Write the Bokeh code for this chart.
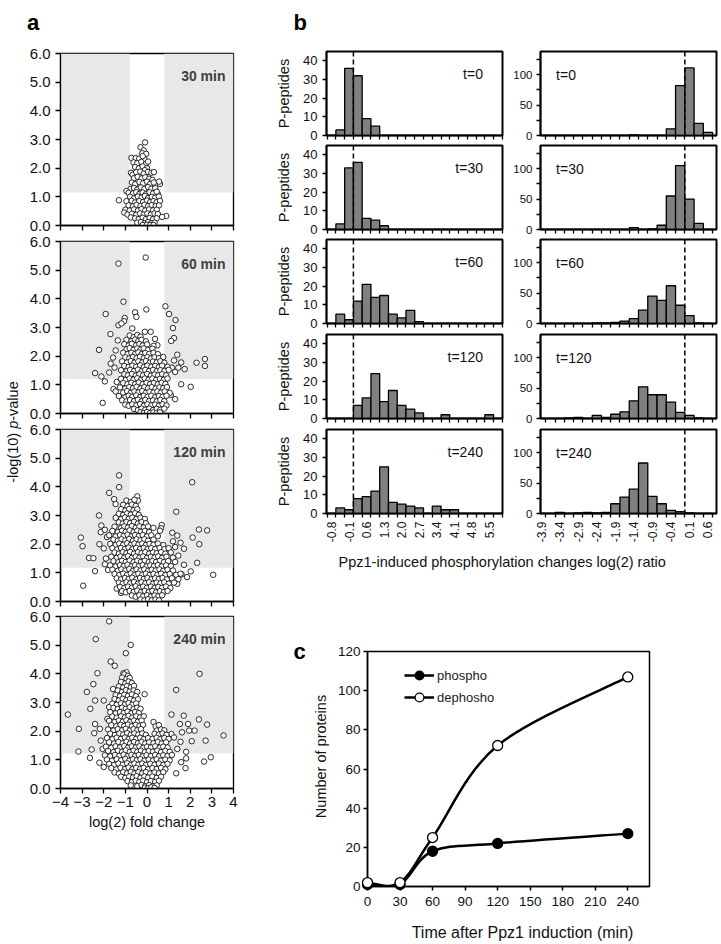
import math
from bokeh.plotting import figure
from bokeh.layouts import row, column
from bokeh.models import (BoxAnnotation, Span, Label, FixedTicker, NumeralTickFormatter,
                          Legend, LegendItem, ColumnDataSource)
from bokeh.embed import file_html
from bokeh.resources import INLINE

FONT = "Liberation Sans"

# ---------------- panel a : volcano plots ----------------
FC_CUT = 0.8
P_CUTS = [1.15, 1.2, 1.18, 1.22]
VOLC_TITLES = ["30 min", "60 min", "120 min", "240 min"]
VX_TICKS = [-4, -3, -2, -1, 0, 1, 2, 3, 4]
VY_TICKS = [0, 1, 2, 3, 4, 5, 6]

v30 = [
(-0.09,2.9),(-0.3,2.73),(-0.15,2.62),(-0.22,2.52),(-0.04,2.5),
(-0.72,2.36),(-0.52,2.35),(-0.36,2.33),(-0.12,2.32),(-0.2,2.42),
(-0.62,2.2),(-0.45,2.17),(-0.26,2.22),(-0.06,2.14),(0.05,2.23),
(-0.55,2.04),(-0.38,1.99),(-0.2,2.06),(0.0,2.0),(-0.1,1.93),
(-0.74,1.84),(-0.66,1.77),(-0.5,1.86),(-0.31,1.88),(-0.15,1.81),(0.05,1.87),(0.2,1.84),(0.32,1.86),
(-0.6,1.65),(-0.43,1.7),(-0.25,1.64),(-0.08,1.68),(0.1,1.63),(0.25,1.59),
(-0.7,1.5),(-0.55,1.44),(-0.35,1.52),(-0.18,1.47),(0.0,1.53),(0.15,1.45),(0.31,1.5),(0.6,1.45),(0.56,1.53),
(-0.76,1.28),(-0.6,1.31),(-0.45,1.25),(-0.28,1.33),(-0.12,1.27),(0.05,1.34),(0.2,1.28),(0.38,1.3),(0.5,1.1),
(-0.95,1.2),(-0.85,1.14),(-0.65,1.12),(-0.5,1.16),(-0.35,1.1),(-0.2,1.15),(-0.05,1.09),(0.12,1.16),(0.28,1.12),(0.45,1.18),
(-0.78,1.0),(-0.6,0.95),(-0.42,1.01),(-0.25,0.97),(-0.1,1.03),(0.05,0.96),(0.22,1.0),(0.38,0.97),(0.55,1.01),
(-1.3,0.88),(-0.95,0.85),(-0.71,0.86),(-0.55,0.8),(-0.36,0.85),(-0.18,0.82),(0.0,0.87),(0.15,0.82),(0.3,0.85),(0.45,0.81),(0.6,0.86),
(-0.85,0.7),(-0.65,0.67),(-0.48,0.72),(-0.3,0.68),(-0.12,0.72),(0.05,0.67),(0.22,0.71),(0.4,0.68),(0.55,0.7),
(-1.0,0.55),(-0.8,0.52),(-0.6,0.56),(-0.42,0.52),(-0.25,0.57),(-0.08,0.52),(0.1,0.56),(0.28,0.53),(0.45,0.55),
(-1.05,0.45),(-0.9,0.38),(-0.7,0.41),(-0.5,0.37),(-0.32,0.42),(-0.15,0.38),(0.02,0.42),(0.18,0.38),(0.35,0.42),(0.5,0.4),
(-0.75,0.28),(-0.55,0.25),(-0.38,0.22),(-0.2,0.27),(-0.05,0.22),(0.12,0.26),(0.28,0.22),(0.45,0.25),(0.89,0.33),(0.7,0.3),
(-0.45,0.1),(-0.28,0.12),(-0.1,0.08),(0.05,0.12),(0.2,0.08),(0.35,0.1),(-0.2,0.02),(0.0,0.03),(0.15,0.02),(0.3,0.02),
]

v60 = [
(-0.06,5.44),(-1.32,5.23),(-1.09,3.9),(-0.03,3.63),(-0.55,3.53),(-0.49,3.37),(-1.03,3.33),(-1.06,3.22),
(-1.91,3.47),(-1.32,3.08),(-1.18,3.14),(-1.69,2.77),(-0.68,2.97),(-0.1,2.85),(0.17,2.85),(0.85,3.74),
(1.02,3.47),(1.32,3.26),(1.2,2.98),(1.25,2.63),(1.12,2.53),(-2.22,2.22),(-1.57,1.95),(-1.68,1.74),
(-2.4,1.41),(-2.11,1.29),(-1.95,1.12),(-1.75,1.43),(2.29,1.77),(2.68,1.9),(2.68,1.66),(1.58,1.78),
(1.74,1.55),(1.4,2.05),(1.58,1.02),(2.02,0.93),(-2.05,0.37),(0.37,2.6),(0.48,2.38),(-1.35,2.55),
(-1.45,2.2),(-1.5,1.6),(1.15,1.6),(1.3,1.45),(1.25,1.85),(1.45,1.6),(1.1,0.65),(1.3,0.5),(-1.55,0.85),(-1.4,1.1),
(-0.8,2.72),(-0.62,2.66),(-0.45,2.74),(-0.3,2.68),
(-0.95,2.57),(-0.72,2.52),(-0.55,2.58),(-0.4,2.53),(-0.25,2.57),(-0.05,2.52),
(-1.05,2.42),(-0.85,2.37),(-0.7,2.43),(-0.5,2.38),(-0.35,2.42),(-0.2,2.37),(0.0,2.41),(0.3,2.36),
(-0.95,2.24),(-0.8,2.28),(-0.62,2.22),(-0.45,2.27),(-0.3,2.23),(-0.15,2.27),(0.05,2.22),(0.25,2.26),
(-1.1,2.12),(-0.9,2.07),(-0.72,2.12),(-0.55,2.08),(-0.4,2.13),(-0.25,2.07),(-0.08,2.11),(0.1,2.08),(0.3,2.12),(0.5,2.07),
(-1.0,1.96),(-0.82,1.92),(-0.65,1.97),(-0.48,1.93),(-0.32,1.98),(-0.15,1.93),(0.02,1.97),(0.18,1.92),(0.35,1.96),(0.55,1.93),(0.75,1.97),
(-1.15,1.82),(-0.92,1.78),(-0.75,1.83),(-0.58,1.77),(-0.4,1.82),(-0.22,1.78),(-0.05,1.83),(0.12,1.77),(0.28,1.81),(0.45,1.78),(0.62,1.82),(0.8,1.77),
(-1.05,1.66),(-0.85,1.62),(-0.68,1.67),(-0.5,1.63),(-0.32,1.68),(-0.15,1.62),(0.02,1.67),(0.2,1.63),(0.38,1.66),(0.55,1.62),(0.7,1.67),(0.95,1.63),
(-1.2,1.51),(-0.95,1.47),(-0.78,1.52),(-0.6,1.48),(-0.42,1.53),(-0.25,1.47),(-0.08,1.52),(0.1,1.48),(0.28,1.52),(0.45,1.47),(0.62,1.51),(0.8,1.48),(1.0,1.52),
(-1.05,1.37),(-0.88,1.33),(-0.7,1.38),(-0.52,1.32),(-0.35,1.37),(-0.18,1.33),(0.0,1.38),(0.18,1.32),(0.35,1.36),(0.52,1.33),(0.7,1.37),(0.88,1.33),
(-1.2,1.21),(-0.98,1.17),(-0.8,1.22),(-0.62,1.18),(-0.45,1.23),(-0.28,1.17),(-0.1,1.22),(0.08,1.18),(0.25,1.22),(0.42,1.17),(0.6,1.21),(0.78,1.18),(0.95,1.22),
(-1.1,1.06),(-0.9,1.02),(-0.72,1.07),(-0.55,1.03),(-0.38,1.08),(-0.2,1.02),(-0.02,1.07),(0.15,1.03),(0.32,1.06),(0.5,1.02),(0.68,1.07),(0.85,1.03),
(-1.25,0.91),(-1.0,0.87),(-0.82,0.92),(-0.65,0.88),(-0.48,0.93),(-0.3,0.87),(-0.12,0.92),(0.05,0.88),(0.22,0.92),(0.4,0.87),(0.58,0.91),(0.75,0.88),(0.92,0.92),
(-1.45,0.77),(-1.1,0.73),(-0.92,0.78),(-0.75,0.72),(-0.58,0.77),(-0.4,0.73),(-0.22,0.78),(-0.05,0.72),(0.12,0.76),(0.3,0.73),(0.48,0.77),(0.65,0.73),(0.82,0.77),(1.05,0.72),
(-1.3,0.61),(-1.0,0.57),(-0.85,0.62),(-0.68,0.58),(-0.5,0.63),(-0.32,0.57),(-0.15,0.62),(0.02,0.58),(0.2,0.62),(0.38,0.57),(0.55,0.61),(0.72,0.58),(0.9,0.62),
(-1.15,0.46),(-0.95,0.42),(-0.78,0.47),(-0.6,0.43),(-0.42,0.48),(-0.25,0.42),(-0.08,0.47),(0.1,0.43),(0.28,0.46),(0.45,0.42),(0.62,0.47),(0.8,0.43),
(-1.0,0.31),(-0.85,0.27),(-0.68,0.32),(-0.5,0.28),(-0.32,0.33),(-0.15,0.27),(0.02,0.32),(0.2,0.28),(0.38,0.31),(0.55,0.27),(0.72,0.32),(0.9,0.28),
(-0.6,0.16),(-0.42,0.12),(-0.25,0.17),(-0.08,0.13),(0.1,0.17),(0.28,0.12),(0.45,0.16),(0.62,0.13),(0.8,0.17),
(-0.3,0.04),(-0.15,0.02),(0.0,0.05),(0.15,0.02),(0.3,0.04),(0.45,0.02),(0.6,0.04),
]

v120 = [
(-1.29,4.4),(-1.29,3.99),(-1.75,3.79),(-1.52,3.57),(-1.45,3.4),(-0.45,3.67),(-0.42,3.52),(-2.22,3.0),
(-3.06,2.23),(-2.98,1.93),(-2.68,1.52),(-2.48,1.51),(-2.4,1.06),(-2.95,0.55),(-2.11,2.65),(-2.14,2.42),
(-1.95,2.5),(-1.85,2.25),(-2.2,2.0),(-2.0,1.85),(-1.9,1.5),(-1.95,1.3),(-1.8,1.1),(2.09,4.16),
(1.35,3.13),(0.68,2.67),(0.65,2.55),(1.17,2.4),(1.4,2.3),(2.4,2.51),(2.78,2.48),(2.11,2.23),
(2.42,2.0),(1.71,1.84),(2.32,1.35),(1.71,1.28),(2.02,1.05),(3.06,0.93),(1.4,0.62),(1.6,0.95),
(1.85,0.85),(1.3,1.9),(1.45,1.6),(1.2,2.1),(1.55,2.05),(-1.2,0.3),(-1.4,0.45),
(-0.95,3.52),(-0.75,3.47),(-0.58,3.55),
(-1.1,3.37),(-0.9,3.32),(-0.7,3.38),(-0.52,3.33),
(-1.2,3.22),(-1.0,3.17),(-0.82,3.23),(-0.62,3.18),(-0.45,3.22),
(-1.3,3.06),(-1.1,3.02),(-0.92,3.07),(-0.75,3.03),(-0.55,3.08),(-0.38,3.02),
(-1.45,2.92),(-1.2,2.87),(-1.02,2.93),(-0.85,2.88),(-0.68,2.92),(-0.5,2.87),(-0.3,2.92),(-0.1,2.88),
(-1.3,2.76),(-1.12,2.72),(-0.95,2.77),(-0.78,2.73),(-0.6,2.78),(-0.42,2.72),(-0.25,2.77),(-0.05,2.73),
(-1.5,2.61),(-1.2,2.57),(-1.05,2.62),(-0.88,2.58),(-0.7,2.63),(-0.52,2.57),(-0.35,2.62),(-0.15,2.58),(0.05,2.62),(0.3,2.57),
(-1.6,2.46),(-1.35,2.42),(-1.15,2.47),(-0.98,2.43),(-0.8,2.48),(-0.62,2.42),(-0.45,2.47),(-0.28,2.43),(-0.1,2.46),(0.1,2.42),(0.6,2.47),
(-1.75,2.31),(-1.45,2.27),(-1.25,2.32),(-1.08,2.28),(-0.9,2.33),(-0.72,2.27),(-0.55,2.32),(-0.38,2.28),(-0.2,2.32),(0.0,2.27),(0.2,2.31),(0.5,2.28),
(-1.55,2.16),(-1.35,2.12),(-1.18,2.17),(-1.0,2.13),(-0.82,2.18),(-0.65,2.12),(-0.48,2.17),(-0.3,2.13),(-0.12,2.17),(0.05,2.12),(0.3,2.16),
(-1.7,2.01),(-1.45,1.97),(-1.28,2.02),(-1.1,1.98),(-0.92,2.03),(-0.75,1.97),(-0.58,2.02),(-0.4,1.98),(-0.22,2.02),(-0.05,1.97),(0.12,2.01),(0.3,1.98),(0.5,2.02),(0.75,1.97),
(-1.6,1.86),(-1.38,1.82),(-1.2,1.87),(-1.02,1.83),(-0.85,1.88),(-0.68,1.82),(-0.5,1.87),(-0.32,1.83),(-0.15,1.87),(0.02,1.82),(0.2,1.86),(0.38,1.83),(0.58,1.87),(0.8,1.82),(1.0,1.86),
(-1.5,1.71),(-1.3,1.67),(-1.12,1.72),(-0.95,1.68),(-0.78,1.73),(-0.6,1.67),(-0.42,1.72),(-0.25,1.68),(-0.08,1.72),(0.1,1.67),(0.28,1.71),(0.45,1.68),(0.65,1.72),(0.85,1.67),(1.1,1.71),
(-1.65,1.56),(-1.4,1.52),(-1.22,1.57),(-1.05,1.53),(-0.88,1.58),(-0.7,1.52),(-0.52,1.57),(-0.35,1.53),(-0.18,1.57),(0.0,1.52),(0.18,1.56),(0.35,1.53),(0.52,1.57),(0.7,1.52),(0.9,1.56),(1.2,1.53),
(-1.55,1.41),(-1.32,1.37),(-1.15,1.42),(-0.98,1.38),(-0.8,1.43),(-0.62,1.37),(-0.45,1.42),(-0.28,1.38),(-0.1,1.42),(0.08,1.37),(0.25,1.41),(0.42,1.38),(0.6,1.42),(0.78,1.37),(0.98,1.41),(1.3,1.38),
(-1.7,1.26),(-1.45,1.22),(-1.25,1.27),(-1.08,1.23),(-0.9,1.28),(-0.72,1.22),(-0.55,1.27),(-0.38,1.23),(-0.2,1.27),(-0.02,1.22),(0.15,1.26),(0.32,1.23),(0.5,1.27),(0.68,1.22),(0.88,1.26),(1.1,1.23),
(-1.6,1.11),(-1.35,1.07),(-1.18,1.12),(-1.0,1.08),(-0.82,1.13),(-0.65,1.07),(-0.48,1.12),(-0.3,1.08),(-0.12,1.12),(0.05,1.07),(0.22,1.11),(0.4,1.08),(0.58,1.12),(0.75,1.07),(0.95,1.11),(1.2,1.08),
(-1.5,0.96),(-1.28,0.92),(-1.1,0.97),(-0.92,0.93),(-0.75,0.98),(-0.58,0.92),(-0.4,0.97),(-0.22,0.93),(-0.05,0.97),(0.12,0.92),(0.3,0.96),(0.48,0.93),(0.65,0.97),(0.85,0.92),(1.05,0.96),(1.35,0.93),(1.55,0.97),
(-1.4,0.81),(-1.2,0.77),(-1.02,0.82),(-0.85,0.78),(-0.68,0.83),(-0.5,0.77),(-0.32,0.82),(-0.15,0.78),(0.02,0.82),(0.2,0.77),(0.38,0.81),(0.55,0.78),(0.72,0.82),(0.92,0.77),(1.15,0.81),(1.45,0.78),
(-1.3,0.66),(-1.12,0.62),(-0.95,0.67),(-0.78,0.63),(-0.6,0.68),(-0.42,0.62),(-0.25,0.67),(-0.08,0.63),(0.1,0.67),(0.28,0.62),(0.45,0.66),(0.62,0.63),(0.8,0.67),(1.0,0.62),(1.25,0.66),
(-1.25,0.51),(-1.05,0.47),(-0.88,0.52),(-0.7,0.48),(-0.52,0.53),(-0.35,0.47),(-0.18,0.52),(0.0,0.48),(0.18,0.52),(0.35,0.47),(0.52,0.51),(0.7,0.48),(0.88,0.52),(1.08,0.47),
(-1.15,0.36),(-0.98,0.32),(-0.8,0.37),(-0.62,0.33),(-0.45,0.38),(-0.28,0.32),(-0.1,0.37),(0.08,0.33),(0.25,0.37),(0.42,0.32),(0.6,0.36),(0.78,0.33),(0.95,0.37),
(-0.7,0.21),(-0.52,0.17),(-0.35,0.22),(-0.18,0.18),(0.0,0.22),(0.18,0.17),(0.35,0.21),(0.52,0.18),(0.7,0.22),
(-0.3,0.07),(-0.12,0.04),(0.05,0.08),(0.22,0.04),(0.4,0.07),(0.55,0.04),
]

v240 = [
(-1.75,5.83),(-2.37,5.21),(-0.75,5.01),(-0.98,4.72),(-1.68,4.43),(-1.49,4.28),(-2.29,4.02),(-1.09,4.02),
(-0.95,4.05),(2.43,4.0),(-2.48,3.64),(-2.78,3.37),(-1.57,3.47),(1.35,3.44),(-0.11,3.29),(-3.66,2.58),
(-3.15,2.08),(-3.17,1.29),(-2.64,1.07),(-2.56,1.36),(-2.62,2.78),(-2.4,3.07),(-2.4,2.25),(-2.18,2.08),
(-2.14,1.67),(-2.44,1.93),(-2.0,3.07),(-2.05,1.38),(-1.75,2.84),(-1.83,2.43),(1.13,2.58),(1.7,2.54),
(2.4,2.41),(2.78,2.23),(3.54,1.85),(1.52,2.25),(1.9,2.25),(2.2,2.02),(1.95,2.02),(1.62,1.96),
(2.07,1.65),(2.71,1.67),(1.55,1.63),(1.81,1.28),(1.81,1.05),(2.95,1.09),(2.64,0.94),(1.78,0.71),
(1.35,0.53),(1.58,0.92),(1.13,1.9),(1.25,1.78),(1.4,1.38),(-2.2,0.9),(-2.0,0.75),
(-1.05,3.98),(-0.88,3.93),
(-1.15,3.87),(-0.95,3.82),(-0.8,3.86),
(-1.2,3.72),(-1.0,3.67),(-0.85,3.73),(-0.7,3.68),
(-1.3,3.56),(-1.1,3.52),(-0.92,3.57),(-0.75,3.53),(-0.6,3.58),
(-1.35,3.42),(-1.15,3.37),(-0.98,3.43),(-0.8,3.38),(-0.62,3.42),(-0.45,3.37),
(-1.45,3.26),(-1.25,3.22),(-1.05,3.27),(-0.88,3.23),(-0.7,3.28),(-0.52,3.22),
(-1.5,3.12),(-1.3,3.07),(-1.12,3.13),(-0.95,3.08),(-0.78,3.12),(-0.6,3.07),(-0.42,3.11),
(-1.6,2.96),(-1.4,2.92),(-1.2,2.97),(-1.02,2.93),(-0.85,2.98),(-0.68,2.92),(-0.5,2.97),
(-1.55,2.81),(-1.35,2.77),(-1.15,2.82),(-0.98,2.78),(-0.8,2.83),(-0.62,2.77),(-0.45,2.82),(-0.3,2.78),
(-1.7,2.66),(-1.45,2.62),(-1.25,2.67),(-1.08,2.63),(-0.9,2.68),(-0.72,2.62),(-0.55,2.67),(-0.38,2.63),
(-1.6,2.51),(-1.4,2.47),(-1.2,2.52),(-1.02,2.48),(-0.85,2.53),(-0.68,2.47),(-0.5,2.52),(-0.32,2.48),(-0.15,2.52),
(-1.75,2.36),(-1.5,2.32),(-1.3,2.37),(-1.12,2.33),(-0.95,2.38),(-0.78,2.32),(-0.6,2.37),(-0.42,2.33),(-0.25,2.37),(0.3,2.32),
(-1.65,2.21),(-1.42,2.17),(-1.22,2.22),(-1.05,2.18),(-0.88,2.23),(-0.7,2.17),(-0.52,2.22),(-0.35,2.18),(-0.18,2.22),(0.4,2.17),(0.55,2.21),
(-1.8,2.06),(-1.55,2.02),(-1.35,2.07),(-1.15,2.03),(-0.98,2.08),(-0.8,2.02),(-0.62,2.07),(-0.45,2.03),(-0.28,2.07),(0.45,2.02),(0.65,2.06),(0.8,2.03),
(-1.7,1.91),(-1.48,1.87),(-1.28,1.92),(-1.1,1.88),(-0.92,1.93),(-0.75,1.87),(-0.58,1.92),(-0.4,1.88),(-0.22,1.92),(-0.05,1.87),(0.35,1.91),(0.55,1.88),(0.72,1.92),(0.9,1.87),
(-1.85,1.76),(-1.6,1.72),(-1.4,1.77),(-1.2,1.73),(-1.02,1.78),(-0.85,1.72),(-0.68,1.77),(-0.5,1.73),(-0.32,1.77),(-0.15,1.72),(0.05,1.76),(0.25,1.73),(0.45,1.77),(0.62,1.72),(0.8,1.76),(1.0,1.73),
(-1.75,1.61),(-1.52,1.57),(-1.32,1.62),(-1.12,1.58),(-0.95,1.63),(-0.78,1.57),(-0.6,1.62),(-0.42,1.58),(-0.25,1.62),(-0.08,1.57),(0.1,1.61),(0.3,1.58),(0.5,1.62),(0.68,1.57),(0.88,1.61),
(-1.9,1.46),(-1.65,1.42),(-1.45,1.47),(-1.25,1.43),(-1.05,1.48),(-0.88,1.42),(-0.7,1.47),(-0.52,1.43),(-0.35,1.47),(-0.18,1.42),(0.0,1.46),(0.18,1.43),(0.38,1.47),(0.58,1.42),(0.75,1.46),(0.95,1.43),
(-1.8,1.31),(-1.55,1.27),(-1.35,1.32),(-1.15,1.28),(-0.98,1.33),(-0.8,1.27),(-0.62,1.32),(-0.45,1.28),(-0.28,1.32),(-0.1,1.27),(0.08,1.31),(0.28,1.28),(0.48,1.32),(0.65,1.27),(0.85,1.31),(1.05,1.28),
(-1.95,1.16),(-1.7,1.12),(-1.48,1.17),(-1.28,1.13),(-1.08,1.18),(-0.9,1.12),(-0.72,1.17),(-0.55,1.13),(-0.38,1.17),(-0.2,1.12),(-0.02,1.16),(0.18,1.13),(0.38,1.17),(0.55,1.12),(0.75,1.16),(0.95,1.13),(1.15,1.17),
(-1.85,1.01),(-1.62,0.97),(-1.4,1.02),(-1.2,0.98),(-1.0,1.03),(-0.82,0.97),(-0.65,1.02),(-0.48,0.98),(-0.3,1.02),(-0.12,0.97),(0.08,1.01),(0.28,0.98),(0.45,1.02),(0.65,0.97),(0.85,1.01),(1.05,0.98),
(-1.75,0.86),(-1.52,0.82),(-1.32,0.87),(-1.12,0.83),(-0.92,0.88),(-0.75,0.82),(-0.58,0.87),(-0.4,0.83),(-0.22,0.87),(-0.05,0.82),(0.15,0.86),(0.35,0.83),(0.55,0.87),(0.75,0.82),(0.95,0.86),
(-1.65,0.71),(-1.42,0.67),(-1.22,0.72),(-1.02,0.68),(-0.85,0.73),(-0.68,0.67),(-0.5,0.72),(-0.32,0.68),(-0.15,0.72),(0.05,0.67),(0.25,0.71),(0.45,0.68),(0.65,0.72),(0.85,0.67),
(-1.5,0.56),(-1.3,0.52),(-1.1,0.57),(-0.92,0.53),(-0.75,0.58),(-0.58,0.52),(-0.4,0.57),(-0.22,0.53),(-0.05,0.57),(0.15,0.52),(0.35,0.56),(0.55,0.53),(0.75,0.57),
(-1.2,0.41),(-1.0,0.37),(-0.82,0.42),(-0.65,0.38),(-0.48,0.43),(-0.3,0.37),(-0.12,0.42),(0.05,0.38),(0.25,0.42),(0.45,0.37),(0.65,0.41),
(-0.9,0.26),(-0.7,0.22),(-0.52,0.27),(-0.35,0.23),(-0.18,0.27),(0.0,0.22),(0.18,0.26),(0.38,0.23),(0.55,0.27),
(-0.75,0.11),(-0.45,0.08),(-0.25,0.12),(-0.08,0.08),(0.1,0.12),(0.28,0.08),(0.45,0.11),
(-0.1,0.03),(0.05,0.01),(0.2,0.04),(0.35,0.02),
]

# ---------------- panel b : histograms ----------------
LEFT_BINS = [-0.8, -0.45, -0.1, 0.25, 0.6, 0.95, 1.3, 1.65, 2.0, 2.35,
             2.7, 3.05, 3.4, 3.75, 4.1, 4.45, 4.8, 5.15, 5.5, 5.85]
RIGHT_BINS = [-3.9, -3.65, -3.4, -3.15, -2.9, -2.65, -2.4, -2.15, -1.9, -1.65,
              -1.4, -1.15, -0.9, -0.65, -0.4, -0.15, 0.1, 0.35, 0.6]
TIME_LABELS = ["t=0", "t=30", "t=60", "t=120", "t=240"]

up_t0   = [0, 3, 36, 32, 9, 5, 0, 0, 0, 0, 0, 0, 0, 0, 0, 0, 0, 0, 0, 0]
up_t30  = [0, 3, 33, 36, 6, 5, 2, 0, 0, 0, 0, 0, 0, 0, 0, 0, 0, 0, 0, 0]
up_t60  = [0, 5, 2, 12, 21, 14, 15, 5, 3, 7, 1, 0, 0, 0, 0, 0, 0, 0, 0, 0]
up_t120 = [0, 0, 0, 7, 11, 24, 9, 15, 7, 5, 3, 0, 0, 2, 0, 0, 0, 0, 2, 0]
up_t240 = [0, 3, 2, 8, 9, 12, 25, 6, 5, 4, 3, 0, 4, 2, 2, 0, 0, 0, 0, 0]

dn_t0   = [0, 0, 0, 0, 0, 0, 0, 0, 0, 0, 1, 0, 0, 0, 11, 82, 111, 20, 5]
dn_t30  = [0, 0, 0, 0, 0, 0, 0, 0, 0, 0, 3, 0, 1, 7, 55, 105, 50, 10, 0]
dn_t60  = [0, 0, 0, 0, 0, 0, 1, 1, 2, 4, 8, 22, 45, 38, 62, 30, 13, 1, 0]
dn_t120 = [0, 0, 0, 1, 2, 0, 5, 2, 7, 11, 29, 52, 39, 39, 27, 10, 5, 1, 0]
dn_t240 = [0, 0, 2, 0, 1, 2, 1, 2, 16, 27, 40, 83, 28, 16, 5, 3, 1, 0, 0]

LEFT_REF = 0.075     # dashed reference line (bin boundary next to 0)
RIGHT_REF = -0.025

# ---------------- panel c ----------------
TIMES = [0, 30, 60, 120, 240]
phospho = [1, 1, 18, 22, 27]
dephospho = [2, 2, 25, 72, 107]
C_XTICKS = [0, 30, 60, 90, 120, 150, 180, 210, 240]
C_YTICKS = [0, 20, 40, 60, 80, 100, 120]


def no_align(p):
    try:
        p.frame_align = False
    except Exception:
        pass


def base_fig(w, h, xr, yr, bl, br, bt, bb):
    p = figure(width=w, height=h, x_range=xr, y_range=yr, output_backend="svg",
               toolbar_location=None, min_border_left=bl, min_border_right=br,
               min_border_top=bt, min_border_bottom=bb)
    p.grid.visible = False
    p.background_fill_color = "white"
    p.border_fill_color = "white"
    p.outline_line_color = "black"
    return p


def text_band(w, h):
    """Blank figure used only to carry free text (frame == whole canvas, 1 unit == 1 px)."""
    p = figure(width=w, height=h, x_range=(0, w), y_range=(0, h), output_backend="svg",
               toolbar_location=None, x_axis_type=None, y_axis_type=None, min_border=0)
    p.grid.visible = False
    p.outline_line_color = None
    p.background_fill_color = "white"
    p.border_fill_color = "white"
    no_align(p)
    return p


def txt(p, x, y, text, size, style="normal", align="center", baseline="middle", angle=0.0,
        color="#111111"):
    p.add_layout(Label(x=x, y=y, text=text, angle=angle, text_font=FONT, text_font_size=size,
                       text_font_style=style, text_color=color, text_align=align,
                       text_baseline=baseline))


def style_axis(ax, size, lw, tick_out, standoff):
    ax.axis_line_color = "black"
    ax.axis_line_width = lw
    ax.major_tick_line_color = "black"
    ax.major_tick_line_width = lw
    ax.major_tick_in = 0
    ax.major_tick_out = tick_out
    ax.minor_tick_line_color = None
    ax.major_label_text_font = FONT
    ax.major_label_text_font_size = size
    ax.major_label_text_color = "#111111"
    ax.major_label_standoff = standoff
    ax.axis_label_text_font = FONT
    ax.axis_label_text_font_style = "normal"
    ax.axis_label_text_color = "#111111"


def minor_only(ax, lw, out):
    ax.minor_tick_line_color = "black"
    ax.minor_tick_line_width = lw
    ax.minor_tick_in = 0
    ax.minor_tick_out = out


def volcano(pts, pcut, title, top, bottom, last):
    p = base_fig(222, top + 172 + bottom, (-4, 4), (0, 6), 33, 15, top, bottom)
    p.outline_line_width = 1.3
    for box in (BoxAnnotation(right=-FC_CUT, bottom=pcut), BoxAnnotation(left=FC_CUT, bottom=pcut)):
        box.fill_color = "#e8e8e8"
        box.fill_alpha = 1.0
        box.line_color = None
        box.level = "underlay"
        p.add_layout(box)
    p.scatter([q[0] for q in pts], [q[1] for q in pts], marker="circle", size=5.5,
              fill_color="white", line_color="#151515", line_width=0.9)
    txt(p, 3.63, 5.2, title, "14px", style="bold", align="right", color="#404040")
    xa, ya = p.xaxis[0], p.yaxis[0]
    ya.ticker = FixedTicker(ticks=VY_TICKS)
    ya.formatter = NumeralTickFormatter(format="0.0")
    style_axis(ya, "15px", 1.3, 5, 5)
    style_axis(xa, "15px", 1.3, 5, 3)
    if last:
        xa.ticker = FixedTicker(ticks=VX_TICKS)
        xa.axis_label = "log(2) fold change"
        xa.axis_label_text_font_size = "14.5px"
        xa.axis_label_standoff = 4
    else:
        xa.ticker = FixedTicker(ticks=[], minor_ticks=VX_TICKS)
        xa.major_tick_out = 0
        minor_only(xa, 1.3, 5)
    return p


def hist(side, counts, tlabel, top, bottom, last):
    if side == "L":
        bins, w, xr, yr = LEFT_BINS, 0.35, (-1.0, 6.03), (0, 45)
        p = base_fig(260, top + 84 + bottom, xr, yr, 78, 6, top, bottom)
        ref = LEFT_REF
    else:
        bins, w, xr, yr = RIGHT_BINS, 0.25, (-3.92, 0.83), (0, 138)
        p = base_fig(211, top + 84 + bottom, xr, yr, 32, 3, top, bottom)
        ref = RIGHT_REF
    p.outline_line_width = 2
    p.vbar(x=bins, top=counts, width=w, fill_color="#808080", line_color="black", line_width=1.3)
    p.add_layout(Span(location=ref, dimension="height", line_color="black",
                      line_width=1.5, line_dash="5 3"))
    edges = [b - w / 2 for b in bins] + [bins[-1] + w / 2]
    xa, ya = p.xaxis[0], p.yaxis[0]
    style_axis(xa, "12px", 1.5, 0, 4)
    minor_only(xa, 1.3, 4)
    if last:
        xa.ticker = FixedTicker(ticks=bins[::2], minor_ticks=edges)
        xa.formatter = NumeralTickFormatter(format="0.0")
        xa.major_label_orientation = math.pi / 2
    else:
        xa.ticker = FixedTicker(ticks=[], minor_ticks=edges)
    if side == "L":
        ya.ticker = FixedTicker(ticks=[0, 10, 20, 30, 40])
        style_axis(ya, "13px", 1.5, 4, 5)
        ya.axis_label = "P-peptides"
        ya.axis_label_text_font_size = "14.5px"
        ya.axis_label_standoff = 8
        txt(p, 5.25, 33, tlabel, "14px", align="right")
    else:
        ya.ticker = FixedTicker(ticks=[0, 50, 100], minor_ticks=[25, 75, 125])
        style_axis(ya, "11.5px", 1.5, 4, 4)
        minor_only(ya, 1.3, 4)
        txt(p, -3.5, 100, tlabel, "14px", align="left")
    return p


def bezier_segments(xs, ys):
    n = len(xs)
    d = dict(x0=[], y0=[], x1=[], y1=[], cx0=[], cy0=[], cx1=[], cy1=[])
    for i in range(n - 1):
        im, ip2 = max(i - 1, 0), min(i + 2, n - 1)
        d["x0"].append(xs[i]); d["y0"].append(ys[i])
        d["x1"].append(xs[i + 1]); d["y1"].append(ys[i + 1])
        d["cx0"].append(xs[i] + (xs[i + 1] - xs[im]) / 6.0)
        d["cy0"].append(ys[i] + (ys[i + 1] - ys[im]) / 6.0)
        d["cx1"].append(xs[i + 1] - (xs[ip2] - xs[i]) / 6.0)
        d["cy1"].append(ys[i + 1] - (ys[ip2] - ys[i]) / 6.0)
    return ColumnDataSource(d)


# ---- top band with panel letters a / b
top_band = text_band(719, 42)
txt(top_band, 26.5, 20.3, "a", "22px", style="bold", align="left", baseline="alphabetic", color="black")
txt(top_band, 293, 20.3, "b", "22px", style="bold", align="left", baseline="alphabetic", color="black")

# ---- shared y label of panel a
ylab = text_band(26, 796)
fs = 14.5
y0 = 406 - 6.944 * fs / 2
for t_, off, st in (("-log(10)", 0.0, "normal"), ("p", 3.723, "italic"), ("-value", 4.279, "normal")):
    txt(ylab, 12, y0 + off * fs, t_, "14.5px", style=st, align="left", angle=math.pi / 2)

# ---- column a
vdata = [v30, v60, v120, v240]
tops = [11, 8, 8, 8]
bottoms = [8, 8, 7, 50]
vfigs = [volcano(vdata[i], P_CUTS[i], VOLC_TITLES[i], tops[i], bottoms[i], i == 3) for i in range(4)]
colA = column(*vfigs)

# ---- column b : histograms
ups = [up_t0, up_t30, up_t60, up_t120, up_t240]
dns = [dn_t0, dn_t30, dn_t60, dn_t120, dn_t240]
htops = [9, 2, 2, 3, 3]
hbots = [8, 8, 8, 8, 39]
hrows = []
for i in range(5):
    hl = hist("L", ups[i], TIME_LABELS[i], htops[i], hbots[i], i == 4)
    hr = hist("R", dns[i], TIME_LABELS[i], htops[i], hbots[i], i == 4)
    hrows.append(row(hl, hr))

# shared x label of panel b
mid_band = text_band(471, 20)
txt(mid_band, 253.7, 10.3, "Ppz1-induced phosphorylation changes log(2) ratio", "14.5px")

# ---- panel c
c_left = text_band(85, 341)
txt(c_left, 45, 262, "c", "22px", style="bold", align="left", baseline="alphabetic", color="black")
txt(c_left, 72, 157, "Number of proteins", "14.5px", angle=math.pi / 2)

pc = base_fig(386, 341, (0, 260), (0, 120), 34, 70, 79, 27)
no_align(pc)
pc.outline_line_width = 1.5
b1 = pc.bezier(x0="x0", y0="y0", x1="x1", y1="y1", cx0="cx0", cy0="cy0", cx1="cx1", cy1="cy1",
               source=bezier_segments(TIMES, phospho), line_color="black", line_width=2.5)
s1 = pc.scatter(TIMES, phospho, marker="circle", size=10, fill_color="black",
                line_color="black", line_width=1.3, level="overlay")
b2 = pc.bezier(x0="x0", y0="y0", x1="x1", y1="y1", cx0="cx0", cy0="cy0", cx1="cx1", cy1="cy1",
               source=bezier_segments(TIMES, dephospho), line_color="black", line_width=2.5)
s2 = pc.scatter(TIMES, dephospho, marker="circle", size=10, fill_color="white",
                line_color="black", line_width=1.3, level="overlay")
xa, ya = pc.xaxis[0], pc.yaxis[0]
xa.ticker = FixedTicker(ticks=C_XTICKS)
ya.ticker = FixedTicker(ticks=C_YTICKS)
style_axis(xa, "13.5px", 1.5, 4, 6)
style_axis(ya, "13.5px", 1.5, 4, 3)
legend = Legend(items=[LegendItem(label="phospho", renderers=[b1, s1]),
                       LegendItem(label="dephosho", renderers=[b2, s2])],
                location=(37, 178), glyph_width=30, glyph_height=22, label_height=22,
                label_standoff=3, spacing=0, padding=0, margin=0,
                border_line_color=None, background_fill_alpha=0,
                label_text_font=FONT, label_text_font_size="13px", label_text_color="#222222")
pc.add_layout(legend)

bot_band = text_band(471, 29)
txt(bot_band, 274, 10.3, "Time after Ppz1 induction (min)", "16px")

colB = column(*hrows, mid_band, row(c_left, pc), bot_band)
root = column(top_band, row(ylab, colA, colB))

open("out.html", "w").write(file_html(root, INLINE))
